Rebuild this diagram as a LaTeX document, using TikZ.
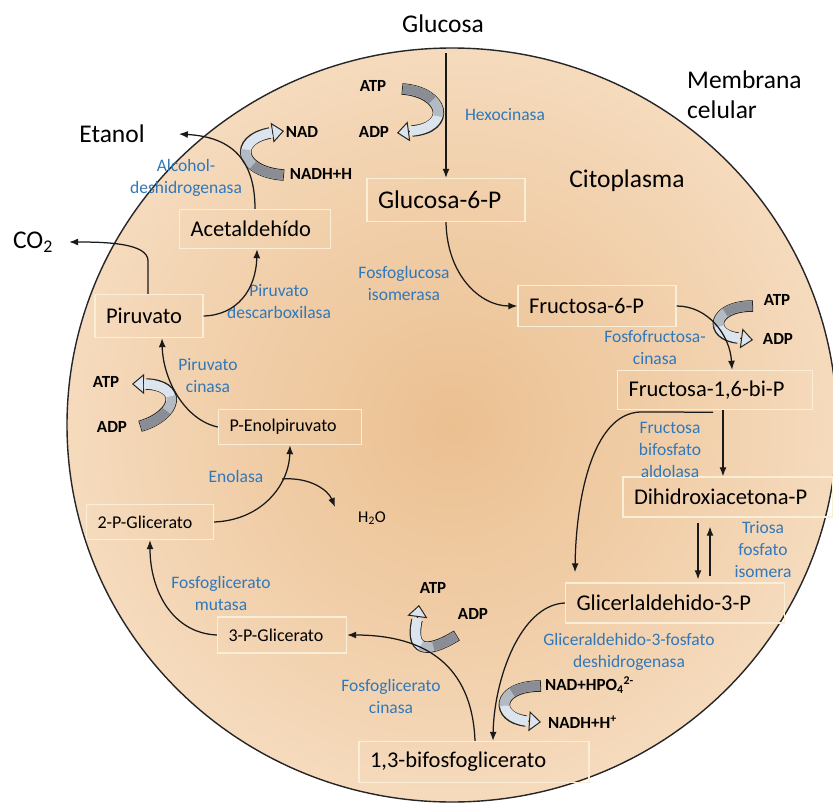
\documentclass[tikz,border=0pt]{standalone}
\usepackage{fontspec}
\setmainfont{Carlito}
\usetikzlibrary{arrows.meta}
\definecolor{enz}{RGB}{48,120,186}
\definecolor{inC}{RGB}{235,192,145}
\definecolor{midC}{RGB}{241,207,170}
\definecolor{outC}{RGB}{249,230,208}
\definecolor{boxline}{RGB}{251,238,214}
\definecolor{fdark}{RGB}{138,142,148}
\definecolor{fmid}{RGB}{180,186,194}
\definecolor{flight}{RGB}{220,229,238}
\pgfdeclareradialshading{cellshade}{\pgfpoint{0bp}{0bp}}{color(0bp)=(inC); color(15bp)=(midC); color(35bp)=(outC); color(50bp)=(outC)}
\newcommand{\fatarrow}[7]{%
  \draw[fatout, shorten <=-1pt] #1 .. controls #2 and #3 .. #4;
  \draw[fathead] #4 -- #5;
  \draw[fatin, draw=flight, shorten >=-2pt] #1 .. controls #2 and #3 .. #4;
  \draw[fatin, draw=fmid, dash pattern=on #7pt off 2000pt] #1 .. controls #2 and #3 .. #4;
  \draw[fatin, draw=fdark, dash pattern=on #6pt off 2000pt] #1 .. controls #2 and #3 .. #4;
}
\begin{document}
\begin{tikzpicture}[x=1pt,y=-1pt,
  box/.style={draw=boxline, line width=1.4pt, inner xsep=11pt, inner ysep=0pt, align=left},
  big/.style={font=\fontsize{25.5}{30}\selectfont, inner sep=2pt},
  mid/.style={font=\fontsize{22.5}{26}\selectfont},
  sml/.style={font=\fontsize{18}{21}\selectfont},
  enzl/.style={text=enz, font=\fontsize{17.5}{22}\selectfont, align=center, inner sep=1pt},
  cof/.style={font=\bfseries\fontsize{17}{19}\selectfont, inner sep=1pt},
  thin/.style={line width=1.25pt, draw=black!90, -{Latex[length=9pt,width=7pt]}},
  fatout/.style={line width=11.5pt, draw=black!85},
  fatin/.style={line width=9.5pt},
  fathead/.style={line width=1pt, draw=black!85, -{Triangle[width=20pt,length=12pt,fill=flight]}}
]
\useasboundingbox (0,0) rectangle (833,803);
\clip (0,0) rectangle (833,803);
\fill[white] (0,0) rectangle (833,803);
% cell
\shade[shading=cellshade] (452,425) ellipse [x radius=385, y radius=377];
\draw[line width=1.4pt, black!85] (452,425) ellipse [x radius=385, y radius=377];

% outside / general labels
\node[big] (glu) at (443,24) {Glucosa};
\node[big, align=left, anchor=west] (memb) at (685,95) {Membrana\\celular};
\node[big] (cito) at (627,181) {Citoplasma};
\node[big] (etanol) at (112,134) {Etanol};
\node[big] (co2) at (33,242) {CO\textsubscript{2}};

% metabolite boxes
\node[box, big, inner xsep=11pt, text width=136pt, minimum height=43pt] (g6p) at (446,200) {Glucosa-6-P};
\node[box, mid, text width=129pt, minimum height=39pt] (acet) at (255,229) {Acetaldehído};
\node[box, mid, text width=86pt, minimum height=43pt] (pir) at (149,316) {Piruvato};
\node[box, mid, text width=136pt, minimum height=41pt] (f6p) at (597,306) {Fructosa-6-P};
\node[box, mid, text width=173pt, minimum height=39pt] (f16) at (715,390) {Fructosa-1,6-bi-P};
\node[box, mid, text width=188pt, minimum height=40pt] (dhap) at (728,497) {Dihidroxiacetona-P};
\node[box, mid, text width=197pt, minimum height=40pt] (gap) at (675,603) {Glicerlaldehido-3-P};
\node[box, mid, text width=208pt, minimum height=41pt] (bpg) at (474,762) {1,3-bifosfoglicerato};
\node[box, sml, text width=107pt, minimum height=36pt] (p3g) at (282,635) {3-P-Glicerato};
\node[box, sml, text width=105pt, minimum height=35pt] (p2g) at (150,522) {2-P-Glicerato};
\node[box, sml, text width=121pt, minimum height=35pt] (pep) at (290,427) {P-Enolpiruvato};

% enzymes
\node[enzl] (hexo) at (505,115) {Hexocinasa};
\node[enzl] (pgi) at (404,283) {Fosfoglucosa\\isomerasa};
\node[enzl] (pfk) at (655,348) {Fosfofructosa-\\cinasa};
\node[enzl] (ald) at (670,450) {Fructosa\\bifosfato\\aldolasa};
\node[enzl] (tpi) at (763,550) {Triosa\\fosfato\\isomera};
\node[enzl] (gapdh) at (629,652) {Gliceraldehido-3-fosfato\\deshidrogenasa};
\node[enzl] (pgk) at (391,696) {Fosfoglicerato\\cinasa};
\node[enzl] (pgm) at (221,593) {Fosfoglicerato\\mutasa};
\node[enzl] (enol) at (236,476) {Enolasa};
\node[enzl] (pk) at (208,376) {Piruvato\\cinasa};
\node[enzl] (pdc) at (279,302) {Piruvato\\descarboxilasa};
\node[enzl] (adh) at (186,178) {Alcohol-\\deshidrogenasa};

% cofactors
\node[cof] (atp1) at (373,86) {ATP};
\node[cof] (adp1) at (374,132) {ADP};
\node[cof] (nad1) at (302,132) {NAD};
\node[cof] (nadh1) at (321,174) {NADH+H};
\node[cof] (atp2) at (777,300) {ATP};
\node[cof] (adp2) at (778,339) {ADP};
\node[cof] (atp3) at (106,382) {ATP};
\node[cof] (adp3) at (112,427) {ADP};
\node[cof] (atp4) at (433,588) {ATP};
\node[cof] (adp4) at (473,614) {ADP};
\node[cof, anchor=west] (nad2) at (544,685) {NAD+HPO\textsubscript{4}\textsuperscript{2-}};
\node[cof, anchor=west] (nadh2) at (547,722) {NADH+H\textsuperscript{+}};
\node[font=\fontsize{16.5}{18}\selectfont, inner sep=1pt] (h2o) at (372,518) {H\textsubscript{2}O};

% fat cofactor arrows
\fatarrow{(403,89)}{(445,92)}{(452,128)}{(412,131)}{(397,133)}{32}{50}
\fatarrow{(283,175)}{(240,172)}{(232,140)}{(270,133)}{(284,131)}{32}{50}
\fatarrow{(752,306)}{(712,306)}{(708,335)}{(738,338)}{(753,340)}{28}{44}
\fatarrow{(141,426)}{(178,415)}{(183,385)}{(146,384)}{(132,384)}{30}{46}
\fatarrow{(456,636)}{(425,655)}{(410,650)}{(417,620)}{(419,605)}{25}{38}
\fatarrow{(540,686)}{(495,686)}{(495,718)}{(526,721)}{(541,722)}{29}{45}

% pathway arrows
\draw[thin, shorten <=18pt] (glu.south -| g6p.north) -- (g6p.north);
\draw[thin] (g6p.south) .. controls (447,275) and (480,306) .. (f6p.west);
\draw[thin] (f6p.east) .. controls (708,306) and (730,335) .. ([xshift=17pt]f16.north);
\draw[thin] ([xshift=8pt]f16.south) -- ([xshift=8pt]f16.south |- dhap.north);
\draw[thin] ([xshift=-2pt,yshift=-2pt]f16.south) -- (640,412) .. controls (592,414) and (576,500) .. ([xshift=-100pt,yshift=10pt]gap.north);
\draw[thin, shorten <=5pt, shorten >=3pt] ([xshift=23pt]gap.north |- dhap.south) -- ([xshift=23pt]gap.north);
\draw[thin, shorten <=6pt, shorten >=9pt] ([xshift=35pt]gap.north) -- ([xshift=35pt]gap.north |- dhap.south);
\draw[thin] (gap.west) .. controls (520,605) and (494,680) .. ([xshift=19pt]bpg.north);
\draw[thin] ([xshift=1pt]bpg.north) .. controls (472,665) and (425,635) .. (p3g.east);
\draw[thin] (p3g.west) .. controls (172,633) and (150,590) .. (p2g.south);
\draw[thin] (p2g.east) .. controls (262,520) and (289,485) .. coordinate[pos=0.7] (enomid) (pep.south);
\draw[thin] (enomid) .. controls (310,477) and (328,490) .. ([xshift=-22pt,yshift=11pt]h2o.west);
\draw[thin] (pep.west) .. controls (185,420) and (163,380) .. ([xshift=13pt]pir.south);
\draw[thin] (pir.east) .. controls (237,315) and (256,290) .. ([xshift=2pt]acet.south);
\draw[thin] ([xshift=-1pt]pir.north) -- ([xshift=-1pt,yshift=33pt]pir.north) .. controls +(0,-18) and +(35,0) .. ([xshift=14pt]co2.east);
\draw[thin] (acet.north) .. controls (255,160) and (232,137) .. ([xshift=32pt]etanol.east);
\end{tikzpicture}
\end{document}
